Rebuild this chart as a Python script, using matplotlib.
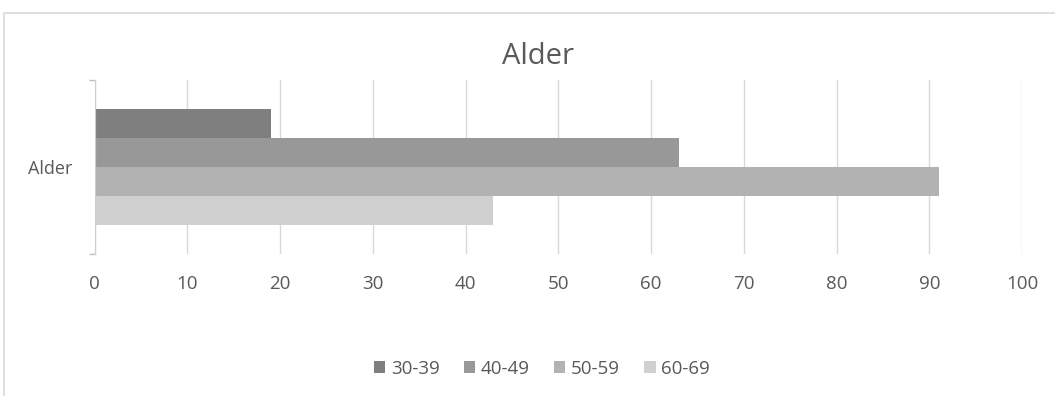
import matplotlib
matplotlib.use("Agg")
import matplotlib.pyplot as plt
from matplotlib.patches import Rectangle

category = "Alder"
series = ["30-39", "40-49", "50-59", "60-69"]
values = [19, 63, 91, 43]
colors = ["#7f7f7f", "#989898", "#b2b2b2", "#d0d0d0"]
xticks = [0, 10, 20, 30, 40, 50, 60, 70, 80, 90, 100]

plt.rcParams['font.family'] = ['Open Sans', 'DejaVu Sans']
txt = "#595959"

fig = plt.figure(figsize=(10.55, 3.96), dpi=100)
# chart frame (cut off at right and bottom like the screenshot)
fig.patches.append(Rectangle((4 / 1055, -0.1), 1.2, 1 - 13 / 396 + 0.1,
                             transform=fig.transFigure, fill=False,
                             edgecolor="#d9d9d9", linewidth=1.2))

ax = fig.add_axes([94.5 / 1055, 1 - 254 / 396, (1022 - 94.5) / 1055, 174 / 396])

h = 1 / 6
offsets = [1.5 * h, 0.5 * h, -0.5 * h, -1.5 * h]
for name, val, off, c in zip(series, values, offsets, colors):
    ax.barh(off, val, height=h, color=c, label=name, zorder=2)

ax.set_xlim(0, 100)
ax.set_ylim(-0.5, 0.5)
ax.set_xticks(xticks)
ax.set_xticklabels([str(t) for t in xticks], fontsize=13.5, color=txt)
ax.tick_params(axis='x', length=0, pad=15)
ax.grid(axis='x', color="#d9d9d9", linewidth=1, zorder=0)

ax.set_yticks([0])
ax.set_yticklabels([category], fontsize=13, color=txt)
ax.tick_params(axis='y', length=0, pad=16)
ax.set_yticks([-0.5, 0.5], minor=True)
ax.tick_params(axis='y', which='minor', length=4, color="#bfbfbf", width=1)

for s in ["top", "right", "bottom"]:
    ax.spines[s].set_visible(False)
ax.spines["left"].set_color("#cfcfcf")

fig.text(538 / 1055, 1 - 56 / 396, "Alder", ha="center", va="center",
         fontsize=21, color=txt)

handles, labels = ax.get_legend_handles_labels()
fig.legend(handles, labels, loc="center", bbox_to_anchor=(542 / 1055, 1 - 369 / 396),
           ncol=4, frameon=False, fontsize=13.5, labelcolor=txt,
           handlelength=0.6, handleheight=0.6, handletextpad=0.3, columnspacing=1.3)

fig.savefig("out.png", dpi=100)
